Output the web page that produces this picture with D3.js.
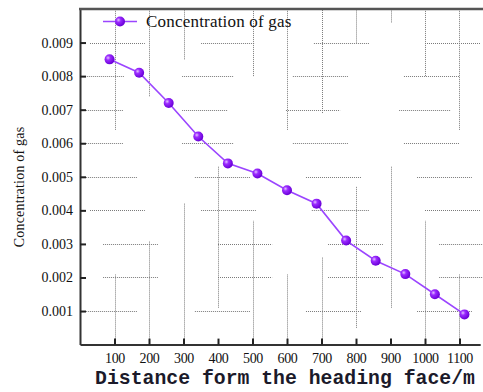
<!DOCTYPE html>
<html>
<head>
<meta charset="utf-8">
<script src="https://cdn.jsdelivr.net/npm/d3@7"></script>
<style>
  html, body { margin: 0; padding: 0; background: #fff; }
  svg { display: block; }
  .tick text { font-family: "Liberation Serif", "DejaVu Serif", serif; }
</style>
</head>
<body>
<svg id="chart" width="483" height="392"></svg>
<script>
// values
const distance = [85.7, 171.4, 257.1, 342.9, 428.6, 514.3, 600, 685.7, 771.4, 857.1, 942.9, 1028.6, 1114.3]
const concentration = [0.0085, 0.0081, 0.0072, 0.0062, 0.0054, 0.0051, 0.0046, 0.0042, 0.0031, 0.0025, 0.0021, 0.0015, 0.0009]
const xTicks = [100, 200, 300, 400, 500, 600, 700, 800, 900, 1000, 1100]
const yTicks = [0.001, 0.002, 0.003, 0.004, 0.005, 0.006, 0.007, 0.008, 0.009]
const seriesName = 'Concentration of gas'
const xTitle = 'Distance form the heading face/m'
const yTitle = 'Concentration of gas'

// broken dotted grid of the original: [value, from, to]
const hGrid = [
  [0.009, 29, 188], [0.009, 351, 507], [0.009, 678, 838], [0.009, 1000, 1160],
  [0.008, 14, 128], [0.008, 296, 446], [0.008, 617, 777], [0.008, 939, 1099],
  [0.007, 17, 125], [0.007, 296, 429], [0.007, 597, 754], [0.007, 925, 1075],
  [0.006, 17, 125], [0.006, 296, 446], [0.006, 617, 777], [0.006, 939, 1099],
  [0.005, 17, 165], [0.005, 333, 493], [0.005, 655, 817], [0.005, 977, 1136],
  [0.004, 29, 188], [0.004, 351, 510], [0.004, 672, 838], [0.004, 1000, 1160],
  [0.003, 67, 226], [0.003, 400, 557], [0.003, 719, 878], [0.003, 1041, 1170],
  [0.002, 67, 226], [0.002, 400, 557], [0.002, 719, 878], [0.002, 1041, 1170],
  [0.001, 17, 165], [0.001, 333, 493], [0.001, 655, 817], [0.001, 977, 1136]
]
const vGrid = [
  [100, 0.0064, 0.01], [100, 0, 0.0021],
  [200, 0.0074, 0.01], [200, 0, 0.0031],
  [300, 0.0085, 0.01], [300, 0, 0.0042],
  [400, 0.0011, 0.0053],
  [500, 0.0080, 0.01], [500, 0, 0.0037],
  [600, 0.0064, 0.01], [600, 0, 0.0021],
  [700, 0.0069, 0.01], [700, 0, 0.0026],
  [800, 0.0090, 0.01], [800, 0.0005, 0.0047],
  [900, 0.0096, 0.01], [900, 0.0011, 0.0053],
  [1000, 0.0080, 0.01], [1000, 0, 0.0037],
  [1100, 0.0064, 0.01], [1100, 0, 0.0021]
]

const margin = { top: 9, right: 3, bottom: 47, left: 80 }
const width = 483
const height = 392

const svg = d3.select('#chart')

const xScale = d3.scaleLinear()
  .domain([0, 1160])
  .range([margin.left, margin.left + 0.345 * 1160])

const yScale = d3.scaleLinear()
  .domain([0, 0.01])
  .range([344.6, margin.top])

const defs = svg.append('defs')
const grad = defs.append('radialGradient')
  .attr('id', 'ball')
  .attr('cx', '35%').attr('cy', '35%').attr('r', '65%')
grad.append('stop').attr('offset', '0%').attr('stop-color', '#e2c2ff')
grad.append('stop').attr('offset', '35%').attr('stop-color', '#9b2bff')
grad.append('stop').attr('offset', '100%').attr('stop-color', '#6a00d8')

defs.append('clipPath').attr('id', 'plot')
  .append('rect')
  .attr('x', margin.left).attr('y', margin.top)
  .attr('width', width - margin.left).attr('height', 344.6 - margin.top)

// grid
const grid = svg.append('g')
  .attr('clip-path', 'url(#plot)')
  .attr('stroke', '#7a7a7a')
  .attr('stroke-width', 1)
  .attr('stroke-dasharray', '1,1')

grid.selectAll('line.h')
  .data(hGrid)
  .join('line')
  .attr('class', 'h')
  .attr('x1', d => xScale(d[1]))
  .attr('x2', d => xScale(d[2]))
  .attr('y1', d => Math.round(yScale(d[0])) + 0.5)
  .attr('y2', d => Math.round(yScale(d[0])) + 0.5)

grid.selectAll('line.v')
  .data(vGrid)
  .join('line')
  .attr('class', 'v')
  .attr('x1', d => Math.round(xScale(d[0])) + 0.5)
  .attr('x2', d => Math.round(xScale(d[0])) + 0.5)
  .attr('y1', d => yScale(d[1]))
  .attr('y2', d => yScale(d[2]))

// axes
const xAxis = g => g
  .attr('transform', `translate(0,${yScale(0)})`)
  .call(d3.axisBottom(xScale).tickValues(xTicks).tickFormat(d3.format('d')).tickSizeInner(-6).tickSizeOuter(0).tickPadding(8))
  .call(g => g.select('.domain').attr('stroke', '#333').attr('stroke-width', 2))
  .call(g => g.selectAll('.tick line').attr('stroke', '#222').attr('stroke-width', 2))
  .call(g => g.selectAll('.tick text')
    .attr('font-size', 14)
    .attr('letter-spacing', -0.4)
    .attr('fill', '#111'))

const yAxis = g => g
  .attr('transform', `translate(${margin.left},0)`)
  .call(d3.axisLeft(yScale).tickValues(yTicks).tickFormat(d3.format('.3f')).tickSizeInner(-6).tickSizeOuter(0).tickPadding(7))
  .call(g => g.select('.domain').attr('stroke', '#333').attr('stroke-width', 2))
  .call(g => g.selectAll('.tick line').attr('stroke', '#222').attr('stroke-width', 2))
  .call(g => g.selectAll('.tick text')
    .attr('font-size', 14)
    .attr('fill', '#111'))

svg.append('g').call(xAxis)
svg.append('g').call(yAxis)

// top frame line
svg.append('line')
  .attr('x1', margin.left - 1).attr('x2', width)
  .attr('y1', margin.top).attr('y2', margin.top)
  .attr('stroke', '#555').attr('stroke-width', 2.5)

// series
const line = d3.line()
  .x((d, i) => xScale(distance[i]))
  .y(d => yScale(d))

svg.append('path')
  .datum(concentration)
  .attr('fill', 'none')
  .attr('stroke', '#9b45ff')
  .attr('stroke-width', 1.6)
  .attr('d', line)

svg.append('g')
  .selectAll('circle')
  .data(concentration)
  .join('circle')
  .attr('cx', (d, i) => xScale(distance[i]))
  .attr('cy', d => yScale(d))
  .attr('r', 5)
  .attr('fill', 'url(#ball)')

// legend
const legend = svg.append('g').attr('transform', 'translate(103,21.5)')
legend.append('line')
  .attr('x1', 0).attr('x2', 34)
  .attr('stroke', '#9b45ff').attr('stroke-width', 1.6)
legend.append('circle')
  .attr('cx', 17).attr('r', 5)
  .attr('fill', 'url(#ball)')
legend.append('text')
  .attr('x', 43).attr('y', 5.5)
  .attr('font-family', '"Liberation Serif", serif')
  .attr('font-size', 17)
  .attr('letter-spacing', 0.2)
  .attr('fill', '#111')
  .text(seriesName)

// axis titles
svg.append('text')
  .attr('x', 285).attr('y', 384)
  .attr('text-anchor', 'middle')
  .attr('font-family', '"Liberation Mono", monospace')
  .attr('font-weight', 'bold')
  .attr('font-size', 19.8)
  .attr('fill', '#1b1a2a')
  .text(xTitle)

svg.append('text')
  .attr('transform', 'translate(24,187) rotate(-90)')
  .attr('text-anchor', 'middle')
  .attr('font-family', '"Liberation Serif", serif')
  .attr('font-size', 14)
  .attr('letter-spacing', 0.2)
  .attr('fill', '#111')
  .text(yTitle)
</script>
</body>
</html>
